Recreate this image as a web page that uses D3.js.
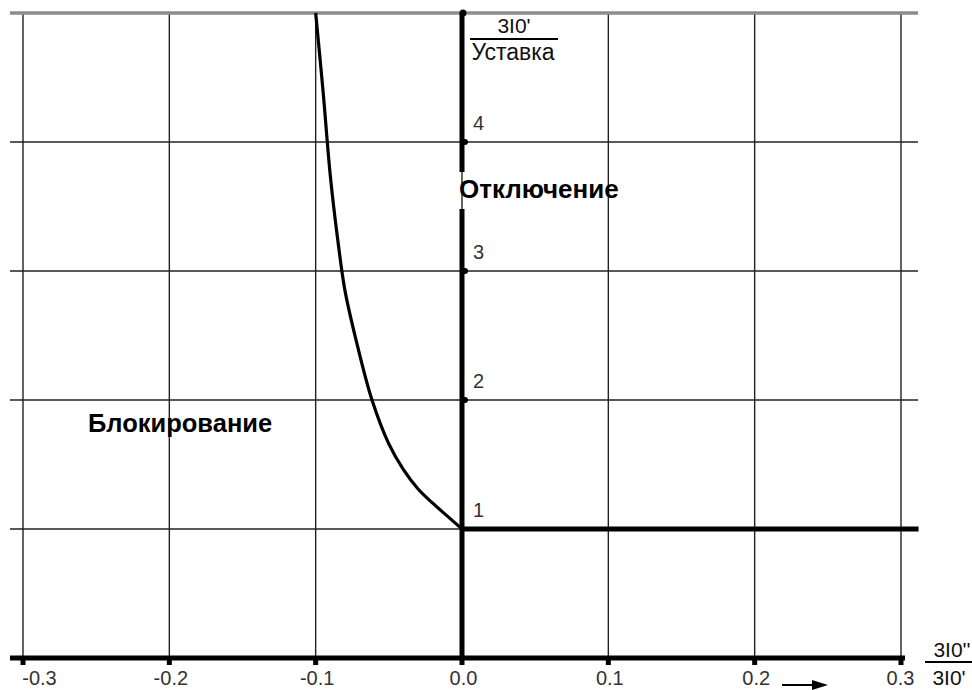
<!DOCTYPE html>
<html><head><meta charset="utf-8">
<script src="https://cdn.jsdelivr.net/npm/d3@7"></script>
<style>
html,body{margin:0;padding:0;background:#fff;}
text{font-family:"Liberation Sans",Arial,sans-serif;}
</style></head>
<body>
<svg id="c" width="972" height="690"></svg>
<script>
// ---- data ----
const xTicks = [-0.3, -0.2, -0.1, 0.0, 0.1, 0.2, 0.3];
const xTickLabels = ["-0.3", "-0.2", "-0.1", "0.0", "0.1", "0.2", "0.3"];
const yGrid = [1, 2, 3, 4];
const yTickLabels = ["1", "2", "3", "4"];
const yMax = 5;
const curveX = [-0.1, -0.095, -0.09, -0.085, -0.08, -0.0725, -0.0615, -0.05, -0.04, -0.03, -0.02, -0.01, 0.0];
const curveY = [5.0, 4.4, 3.74, 3.25, 2.85, 2.47, 2.0, 1.66, 1.46, 1.31, 1.2, 1.1, 1.0];
const tripX = [0.0, 0.312];
const tripY = [1.0, 1.0];
const labelTrip = "Отключение";
const labelBlock = "Блокирование";
const yTitleTop = "3I0'";
const yTitleBottom = "Уставка";
const xTitleTop = "3I0''";
const xTitleBottom = "3I0'";

// ---- scales ----
const svg = d3.select("#c");
const x = d3.scaleLinear().domain([-0.3, 0.3]).range([23, 901]);
const y = d3.scaleLinear().domain([0, 5]).range([658, 13]);
const gridLeft = 10, gridRight = 918;

// vertical grid lines
svg.append("g").selectAll("line").data(xTicks).join("line")
  .attr("x1", d => x(d)).attr("x2", d => x(d))
  .attr("y1", y(yMax)).attr("y2", y(0))
  .attr("stroke", "#222").attr("stroke-width", 1.4);

// horizontal grid lines
svg.append("g").selectAll("line").data(yGrid).join("line")
  .attr("x1", gridLeft).attr("x2", gridRight)
  .attr("y1", d => y(d)).attr("y2", d => y(d))
  .attr("stroke", "#222").attr("stroke-width", 1.4);

// top grey line
svg.append("line").attr("x1", gridLeft).attr("x2", gridRight)
  .attr("y1", y(yMax)).attr("y2", y(yMax))
  .attr("stroke", "#8c8c8c").attr("stroke-width", 3.5);

// bottom axis (thick) with labels
const xAxis = d3.axisBottom(x).tickValues(xTicks)
  .tickFormat((d, i) => xTickLabels[i]).tickSize(0).tickPadding(13);
const gx = svg.append("g").attr("transform", `translate(0,${y(0)})`).call(xAxis);
gx.select(".domain").remove();
gx.selectAll("text").attr("font-size", 20).attr("fill", "#333")
  .attr("font-family", "Liberation Sans, Arial, sans-serif")
  .attr("dx", (d, i) => i === 0 ? 16 : (i === 6 ? -1 : 1));
svg.append("line").attr("x1", gridLeft).attr("x2", 905)
  .attr("y1", y(0)).attr("y2", y(0))
  .attr("stroke", "#000").attr("stroke-width", 5);
// tick nubs
svg.append("g").selectAll("rect").data(xTicks).join("rect")
  .attr("x", d => x(d) - 2.5).attr("y", y(0)).attr("width", 5).attr("height", 7)
  .attr("fill", "#000");

// vertical axis (thick) with gap for label
const gapTop = 172, gapBottom = 209;
svg.append("line").attr("x1", x(0)).attr("x2", x(0))
  .attr("y1", y(yMax)).attr("y2", gapTop)
  .attr("stroke", "#000").attr("stroke-width", 5);
svg.append("line").attr("x1", x(0)).attr("x2", x(0))
  .attr("y1", gapBottom).attr("y2", y(0))
  .attr("stroke", "#000").attr("stroke-width", 5);
svg.append("circle").attr("cx", x(0) + 1).attr("cy", y(yMax)).attr("r", 3.5).attr("fill", "#000");
// y tick dots and labels
svg.append("g").selectAll("circle").data([2, 3, 4]).join("circle")
  .attr("cx", x(0) + 3).attr("cy", d => y(d)).attr("r", 3).attr("fill", "#000");
svg.append("g").selectAll("text").data(yGrid).join("text")
  .attr("x", x(0) + 11).attr("y", d => y(d) - 12)
  .attr("font-size", 20).attr("fill", "#333")
  .text((d, i) => yTickLabels[i]);

// trip threshold line
const line = d3.line().x(d => x(d[0])).y(d => y(d[1]));
svg.append("path").datum(tripX.map((v, i) => [v, tripY[i]]))
  .attr("d", line).attr("fill", "none").attr("stroke", "#000").attr("stroke-width", 5);

// blocking curve
svg.append("path").datum(curveX.map((v, i) => [v, curveY[i]]))
  .attr("d", line.curve(d3.curveCatmullRom.alpha(0.5))).attr("fill", "none")
  .attr("stroke", "#000").attr("stroke-width", 3.2).attr("stroke-linejoin", "round");

// region labels
svg.append("text").attr("x", 459).attr("y", 198).attr("font-size", 26)
  .attr("font-weight", "bold").attr("fill", "#000").text(labelTrip);
svg.append("text").attr("x", 88).attr("y", 432).attr("font-size", 25.5)
  .attr("font-weight", "bold").attr("fill", "#000").text(labelBlock);

// y title fraction
svg.append("text").attr("x", 514).attr("y", 33).attr("text-anchor", "middle")
  .attr("font-size", 21).attr("fill", "#111").text(yTitleTop);
svg.append("line").attr("x1", 470).attr("x2", 558).attr("y1", 39).attr("y2", 39)
  .attr("stroke", "#000").attr("stroke-width", 2);
svg.append("text").attr("x", 513).attr("y", 60).attr("text-anchor", "middle")
  .attr("font-size", 23).attr("fill", "#111").text(yTitleBottom);

// x title fraction
svg.append("text").attr("x", 952).attr("y", 657).attr("text-anchor", "middle")
  .attr("font-size", 21).attr("fill", "#111").text(xTitleTop);
svg.append("line").attr("x1", 925).attr("x2", 972).attr("y1", 662).attr("y2", 662)
  .attr("stroke", "#000").attr("stroke-width", 2);
svg.append("text").attr("x", 949).attr("y", 685).attr("text-anchor", "middle")
  .attr("font-size", 21).attr("fill", "#111").text(xTitleBottom);

// arrow
svg.append("line").attr("x1", 782).attr("x2", 816).attr("y1", 685).attr("y2", 685)
  .attr("stroke", "#000").attr("stroke-width", 2);
svg.append("path").attr("d", "M812,680 L828,685 L812,690 Z").attr("fill", "#000");
</script>
</body></html>
